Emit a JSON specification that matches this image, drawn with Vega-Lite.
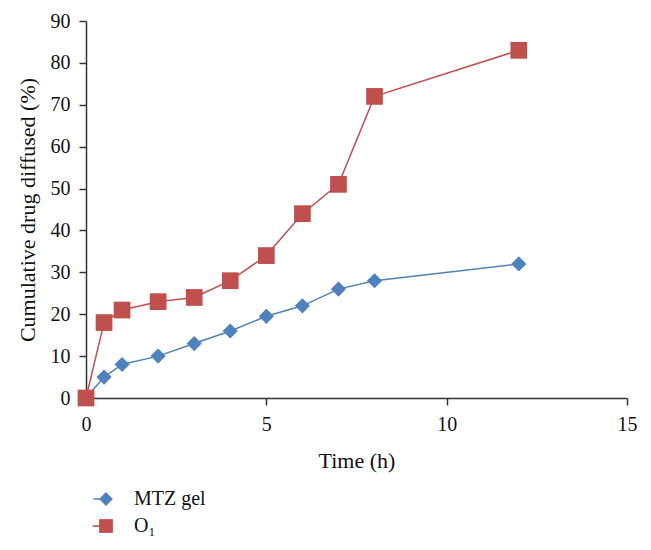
{
  "$schema": "https://vega.github.io/schema/vega-lite/v6.json",
  "autosize": "none",
  "width": 541,
  "height": 377,
  "padding": {"left": 86, "top": 21, "right": 24, "bottom": 152},
  "config": {
    "view": {"stroke": null},
    "font": "Liberation Serif",
    "axis": {
      "grid": false,
      "labelFlush": false,
      "domainColor": "#333333",
      "domainWidth": 1.5,
      "tickColor": "#333333",
      "tickWidth": 1.5,
      "tickSize": 7,
      "labelFont": "Liberation Serif",
      "labelFontSize": 20,
      "labelColor": "#111111",
      "titleFont": "Liberation Serif",
      "titleFontWeight": "normal",
      "titleFontSize": 22,
      "titleColor": "#111111"
    }
  },
  "data": {
    "values": [
      {"t": 0, "v": 0, "s": "MTZ gel"},
      {"t": 0.5, "v": 5, "s": "MTZ gel"},
      {"t": 1, "v": 8, "s": "MTZ gel"},
      {"t": 2, "v": 10, "s": "MTZ gel"},
      {"t": 3, "v": 13, "s": "MTZ gel"},
      {"t": 4, "v": 16, "s": "MTZ gel"},
      {"t": 5, "v": 19.5, "s": "MTZ gel"},
      {"t": 6, "v": 22, "s": "MTZ gel"},
      {"t": 7, "v": 26, "s": "MTZ gel"},
      {"t": 8, "v": 28, "s": "MTZ gel"},
      {"t": 12, "v": 32, "s": "MTZ gel"},
      {"t": 0, "v": 0, "s": "O₁"},
      {"t": 0.5, "v": 18, "s": "O₁"},
      {"t": 1, "v": 21, "s": "O₁"},
      {"t": 2, "v": 23, "s": "O₁"},
      {"t": 3, "v": 24, "s": "O₁"},
      {"t": 4, "v": 28, "s": "O₁"},
      {"t": 5, "v": 34, "s": "O₁"},
      {"t": 6, "v": 44, "s": "O₁"},
      {"t": 7, "v": 51, "s": "O₁"},
      {"t": 8, "v": 72, "s": "O₁"},
      {"t": 12, "v": 83, "s": "O₁"}
    ]
  },
  "encoding": {
    "x": {
      "field": "t", "type": "quantitative",
      "scale": {"domain": [0, 15], "nice": false},
      "axis": {"values": [0, 5, 10, 15], "title": "Time (h)", "labelPadding": 9, "titlePadding": 16}
    },
    "y": {
      "field": "v", "type": "quantitative",
      "scale": {"domain": [0, 90], "nice": false},
      "axis": {"values": [0, 10, 20, 30, 40, 50, 60, 70, 80, 90], "title": "Cumulative drug diffused (%)", "labelPadding": 9, "titlePadding": 11}
    }
  },
  "layer": [
    {
      "mark": {"type": "line", "strokeWidth": 1.5, "clip": false},
      "encoding": {
        "detail": {"field": "s"},
        "stroke": {
          "field": "s", "type": "nominal",
          "scale": {"domain": ["MTZ gel", "O₁"], "range": ["#4F81BD", "#C0504D"]},
          "legend": {
            "title": null, "orient": "none", "legendX": 5, "legendY": 468,
            "symbolType": "stroke", "symbolSize": 1300, "symbolStrokeWidth": 1.5,
            "labelFont": "Liberation Serif", "labelFontSize": 20, "labelColor": "#111111",
            "labelOffset": 23, "rowPadding": 7
          }
        }
      }
    },
    {
      "mark": {"type": "point", "filled": true, "opacity": 1, "clip": false},
      "encoding": {
        "fill": {
          "field": "s", "type": "nominal",
          "scale": {"range": ["#4F81BD", "#C0504D"]},
          "legend": {
            "title": null, "orient": "none", "legendX": 10, "legendY": 468,
            "symbolSize": 190, "symbolStrokeWidth": 0,
            "labelFont": "Liberation Serif", "labelFontSize": 20, "labelExpr": "''",
            "labelOffset": 16, "rowPadding": 7
          }
        },
        "shape": {
          "field": "s", "type": "nominal",
          "scale": {"range": ["diamond", "square"]},
          "legend": {
            "title": null, "orient": "none", "legendX": 10, "legendY": 468,
            "symbolSize": 190, "symbolStrokeWidth": 0,
            "labelFont": "Liberation Serif", "labelFontSize": 20, "labelExpr": "''",
            "labelOffset": 16, "rowPadding": 7
          }
        },
        "size": {
          "field": "s", "type": "nominal",
          "scale": {"domain": ["MTZ gel", "O₁"], "range": [230, 280]},
          "legend": null
        }
      }
    }
  ]
}
